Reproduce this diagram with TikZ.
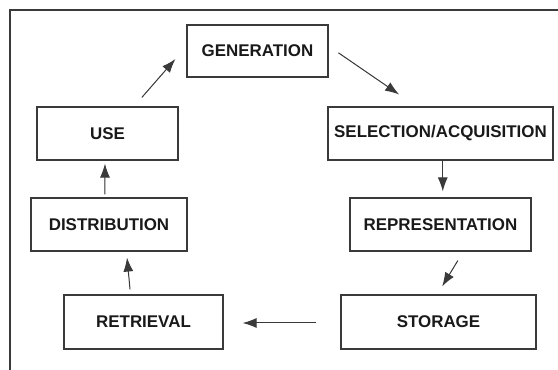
\documentclass[tikz,border=0pt]{standalone}
\usepackage{fontspec}
\setmainfont{Liberation Sans}
\usepackage{xcolor}
\usetikzlibrary{arrows.meta}

\definecolor{linegray}{HTML}{3A3A3A}

\begin{document}
\begin{tikzpicture}[
    x=0.75pt, y=-0.75pt,
    box/.style={rectangle, draw=linegray, line width=0.9pt, inner sep=0pt,
        minimum height=39.75pt, font=\fontsize{12.7}{14}\selectfont\bfseries, text=black!90},
    arrow/.style={-{Latex[length=10.5pt,width=7.5pt]}, line width=0.75pt, draw=linegray, fill=linegray}
]
\useasboundingbox (0,0) rectangle (558,370);

% frame
\draw[linegray, line width=1.2pt] (10,370) -- (10,10) -- (558,10);

\node[box, minimum width=105.75pt, minimum height=39pt] (gen) at (257.5,51) {GENERATION};
\node[box, minimum width=168.75pt] (sel) at (440.5,133.5) {SELECTION/ACQUISITION};
\node[box, minimum width=135.75pt] (rep) at (440.5,224.5) {REPRESENTATION};
\node[box, minimum width=146.25pt, minimum height=40.5pt] (stor) at (438.5,322) {STORAGE};
\node[box, minimum width=119.25pt, minimum height=40.5pt] (ret) at (143.5,322) {RETRIEVAL};
\node[box, minimum width=117pt] (dist) at (109,224.5) {DISTRIBUTION};
\node[box, minimum width=105.75pt] (use) at (107.5,133.5) {USE};

\draw[arrow, shorten <=8.9pt, shorten >=12.5pt] ([xshift=19.9pt]use.north) -- ([yshift=3.45pt]gen.west);
\draw[arrow, shorten <=9pt, shorten >=15.8pt] ([yshift=3.7pt]gen.east) -- ([xshift=-18pt]sel.north);
\draw[arrow, shorten >=4.5pt] ([xshift=1.7pt]sel.south) -- ([xshift=1.7pt]rep.north);
\draw[arrow, shorten <=7.9pt, shorten >=7pt] ([xshift=17.1pt]rep.south) -- ([xshift=-0.9pt]stor.north);
\draw[arrow, shorten <=18pt, shorten >=14.25pt] ([yshift=-0.75pt]stor.west) -- ([yshift=-0.75pt]ret.east);
\draw[arrow, shorten <=3.75pt, shorten >=4.5pt] ([xshift=-9.75pt]ret.north) -- ([xshift=13.1pt]dist.south);
\draw[arrow, shorten <=2.25pt, shorten >=2.25pt] ([xshift=-3pt]dist.north) -- ([xshift=-1.9pt]use.south);
\end{tikzpicture}
\end{document}
